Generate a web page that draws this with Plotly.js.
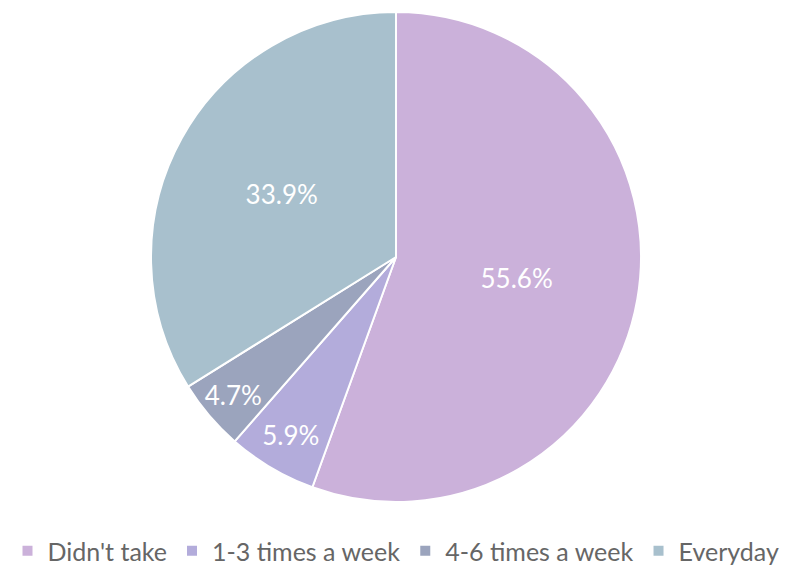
<!DOCTYPE html>
<html><head><meta charset="utf-8">
<script src="https://cdn.plot.ly/plotly-3.0.1.min.js"></script>
<style>html,body{margin:0;padding:0;background:#fff;}#chart{width:792px;height:568px;}</style>
</head><body><div id="chart"></div>
<script>
const categories = ["Didn't take", "1-3 times a week", "4-6 times a week", "Everyday"];
const values = [55.6, 5.9, 4.7, 33.9];
const colors = ["#CBB1DA", "#B3ACDB", "#9BA4BD", "#A8C0CD"];

const trace = {
  type: 'pie',
  labels: categories,
  values: values,
  sort: false,
  direction: 'clockwise',
  rotation: 0,
  marker: {colors: colors, line: {color: '#ffffff', width: 2}},
  texttemplate: '%{value:.1f}%',
  textposition: 'inside',
  insidetextorientation: 'horizontal',
  textfont: {family: 'Lato, "Open Sans", sans-serif', size: 26, color: '#ffffff'},
  hoverinfo: 'none'
};

const layout = {
  width: 792, height: 568,
  margin: {l: 0, r: 0, t: 12, b: 66, autoexpand: false},
  paper_bgcolor: '#ffffff',
  showlegend: true,
  uniformtext: {mode: 'show', minsize: 26},
  legend: {
    orientation: 'h', x: 0.5, xanchor: 'center', y: -0.1, yanchor: 'middle',
    font: {family: 'Lato, "Open Sans", sans-serif', size: 25, color: '#666666'},
    traceorder: 'normal', itemwidth: 30
  }
};

Plotly.newPlot('chart', [trace], layout, {displayModeBar: false, staticPlot: true});
</script>
</body></html>
